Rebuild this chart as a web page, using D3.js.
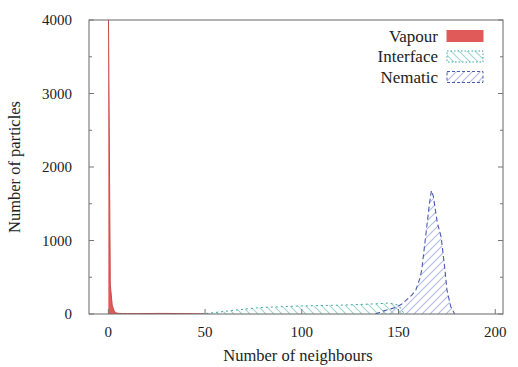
<!DOCTYPE html>
<html>
<head>
<meta charset="utf-8">
<script src="https://cdn.jsdelivr.net/npm/d3@7"></script>
<style>
  body { margin: 0; background: #fff; }
</style>
</head>
<body>
<div id="chart"></div>
<script>
// histogram of neighbour counts
var vapourX = [0, 1, 2, 3, 4, 5, 6, 8, 10, 15, 20, 25, 30, 35, 40, 45, 50];
var vapourY = [4300, 400, 120, 40, 15, 10, 8, 6, 5, 5, 6, 8, 8, 6, 5, 3, 0];

var interfaceX = [48, 55, 60, 65, 70, 75, 80, 90, 100, 110, 120, 130, 140, 145, 150, 153];
var interfaceY = [0, 20, 35, 50, 65, 80, 90, 100, 110, 115, 120, 130, 140, 150, 120, 0];

var nematicX = [138, 142, 146, 149, 152, 154, 157, 159, 161, 162, 164, 166, 167, 168, 170, 172, 174, 175, 177, 179];
var nematicY = [0, 40, 70, 95, 140, 190, 260, 330, 480, 600, 1050, 1510, 1680, 1600, 1250, 1050, 600, 330, 100, 0];

var xTicks = [0, 50, 100, 150, 200];
var yTicks = [0, 1000, 2000, 3000, 4000];
var seriesNames = ["Vapour", "Interface", "Nematic"];

var serif = "'Liberation Serif', 'Times New Roman', Times, 'DejaVu Serif', serif";

var width = 518, height = 367;
var margin = { top: 20, right: 15, bottom: 53, left: 89 };

var x = d3.scaleLinear().domain([-10, 204]).range([margin.left, width - margin.right]);
var y = d3.scaleLinear().domain([0, 4000]).range([height - margin.bottom, margin.top]);

var svg = d3.select("#chart").append("svg")
  .attr("width", width)
  .attr("height", height);

var defs = svg.append("defs");
defs.append("clipPath").attr("id", "clip")
  .append("rect")
  .attr("x", margin.left).attr("y", margin.top)
  .attr("width", width - margin.left - margin.right)
  .attr("height", height - margin.top - margin.bottom);

function hatch(id, color, dir) {
  var p = defs.append("pattern")
    .attr("id", id)
    .attr("patternUnits", "userSpaceOnUse")
    .attr("width", 8).attr("height", 8);
  p.append("path")
    .attr("d", dir > 0 ? "M-2,2 L2,-2 M0,8 L8,0 M6,10 L10,6" : "M-2,6 L2,10 M0,0 L8,8 M6,-2 L10,2")
    .attr("stroke", color)
    .attr("stroke-width", 1.1);
}
hatch("hatchInterface", "#9ed6cf", -1);
hatch("hatchNematic", "#b2bce4", 1);

function toPoints(xs, ys) {
  return xs.map(function (d, i) { return [d, ys[i]]; });
}

var area = d3.area()
  .x(function (d) { return x(d[0]); })
  .y0(y(0))
  .y1(function (d) { return y(d[1]); });

var line = d3.line()
  .x(function (d) { return x(d[0]); })
  .y(function (d) { return y(d[1]); });

var plot = svg.append("g").attr("clip-path", "url(#clip)");

// interface
plot.append("path")
  .datum(toPoints(interfaceX, interfaceY))
  .attr("d", area)
  .attr("fill", "url(#hatchInterface)");
plot.append("path")
  .datum(toPoints(interfaceX, interfaceY))
  .attr("d", line)
  .attr("fill", "none")
  .attr("stroke", "#3aa89a")
  .attr("stroke-width", 1)
  .attr("stroke-dasharray", "2,3");

// nematic
plot.append("path")
  .datum(toPoints(nematicX, nematicY))
  .attr("d", area)
  .attr("fill", "url(#hatchNematic)");
plot.append("path")
  .datum(toPoints(nematicX, nematicY))
  .attr("d", line)
  .attr("fill", "none")
  .attr("stroke", "#4a5bb0")
  .attr("stroke-width", 1.1)
  .attr("stroke-dasharray", "5,3");

// vapour
plot.append("path")
  .datum([[0, 0]].concat(toPoints(vapourX, vapourY)))
  .attr("d", area)
  .attr("fill", "#e05a5a");
plot.append("path")
  .datum(toPoints(vapourX, vapourY))
  .attr("d", line)
  .attr("fill", "none")
  .attr("stroke", "#c84848")
  .attr("stroke-width", 1);

// frame
svg.append("rect")
  .attr("x", margin.left).attr("y", margin.top)
  .attr("width", width - margin.left - margin.right)
  .attr("height", height - margin.top - margin.bottom)
  .attr("fill", "none")
  .attr("stroke", "#666")
  .attr("stroke-width", 1);

// ticks (inward, gnuplot style)
var tickLen = 5;
svg.append("g").selectAll("line.yt")
  .data(d3.range(0, 4001, 500))
  .enter().append("line")
  .attr("x1", margin.left)
  .attr("x2", function (d) { return margin.left + (d % 1000 === 0 ? tickLen : 3); })
  .attr("y1", function (d) { return y(d); })
  .attr("y2", function (d) { return y(d); })
  .attr("stroke", "#777");
svg.append("g").selectAll("line.yr")
  .data(d3.range(0, 4001, 500))
  .enter().append("line")
  .attr("x1", width - margin.right)
  .attr("x2", function (d) { return width - margin.right - (d % 1000 === 0 ? tickLen : 3); })
  .attr("y1", function (d) { return y(d); })
  .attr("y2", function (d) { return y(d); })
  .attr("stroke", "#777");
svg.append("g").selectAll("line.xt")
  .data(xTicks)
  .enter().append("line")
  .attr("x1", function (d) { return x(d); })
  .attr("x2", function (d) { return x(d); })
  .attr("y1", y(0))
  .attr("y2", y(0) - tickLen)
  .attr("stroke", "#777");

// tick labels
svg.append("g").selectAll("text")
  .data(yTicks)
  .enter().append("text")
  .attr("x", 72)
  .attr("y", function (d) { return y(d); })
  .attr("dy", "0.35em")
  .attr("text-anchor", "end")
  .attr("font-family", serif)
  .attr("font-size", 15)
  .attr("fill", "#222")
  .text(function (d) { return d; });

svg.append("g").selectAll("text")
  .data(xTicks)
  .enter().append("text")
  .attr("x", function (d) { return x(d); })
  .attr("y", y(0) + 23)
  .attr("text-anchor", "middle")
  .attr("font-family", serif)
  .attr("font-size", 15)
  .attr("fill", "#222")
  .text(function (d) { return d; });

// axis titles
svg.append("text")
  .attr("x", 298)
  .attr("y", 361)
  .attr("text-anchor", "middle")
  .attr("font-family", serif)
  .attr("font-size", 16.5)
  .attr("fill", "#222")
  .text("Number of neighbours");

svg.append("text")
  .attr("transform", "translate(20," + 167 + ") rotate(-90)")
  .attr("text-anchor", "middle")
  .attr("font-family", serif)
  .attr("font-size", 16.5)
  .attr("fill", "#222")
  .text("Number of particles");

// legend
var legend = svg.append("g");
var swatchFill = ["#e05a5a", "url(#hatchInterface)", "url(#hatchNematic)"];
var swatchStroke = ["#e05a5a", "#3aa89a", "#4a5bb0"];
var swatchDash = [null, "1.5,2", "3,2"];
seriesNames.forEach(function (name, i) {
  var ly = 36 + i * 20.5;
  legend.append("text")
    .attr("x", 438)
    .attr("y", ly)
    .attr("dy", "0.35em")
    .attr("text-anchor", "end")
    .attr("font-family", serif)
    .attr("font-size", 17)
    .attr("fill", "#222")
    .text(name);
  legend.append("rect")
    .attr("x", 447).attr("y", ly - 5.5)
    .attr("width", 36).attr("height", 11)
    .attr("fill", swatchFill[i])
    .attr("stroke", swatchStroke[i])
    .attr("stroke-width", 1)
    .attr("stroke-dasharray", swatchDash[i]);
});
</script>
</body>
</html>
